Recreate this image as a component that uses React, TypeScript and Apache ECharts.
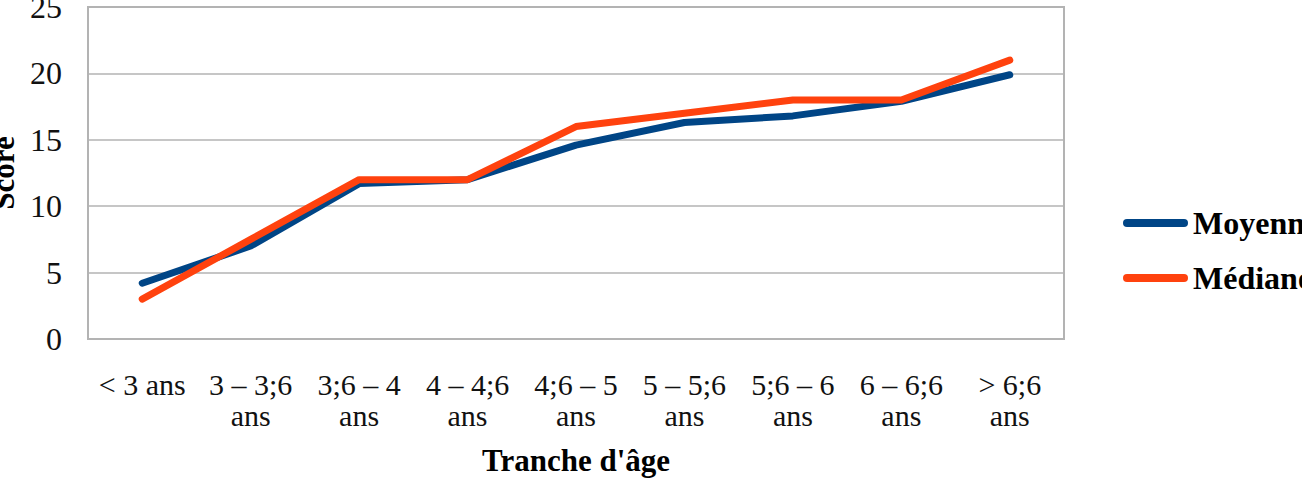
import React, { useEffect, useRef } from "react";
import * as echarts from "echarts";

// Age brackets (x axis) and the two score series
const ageBrackets = [
  "< 3 ans",
  "3 – 3;6\nans",
  "3;6 – 4\nans",
  "4 – 4;6\nans",
  "4;6 – 5\nans",
  "5 – 5;6\nans",
  "5;6 – 6\nans",
  "6 – 6;6\nans",
  "> 6;6\nans",
];
const moyenne = [4.2, 7.0, 11.7, 12.0, 14.6, 16.3, 16.8, 17.9, 19.9];
const mediane = [3.0, 7.5, 12.0, 12.0, 16.0, 17.0, 18.0, 18.0, 21.0];
const seriesNames = ["Moyenne", "Médiane"];

const SERIF = "'Liberation Serif', 'Times New Roman', serif";
const pill = "path://M4,0 L61,0 A4,4 0 0 1 61,8 L4,8 A4,4 0 0 1 4,0 Z";

export default function App() {
  const ref = useRef<HTMLDivElement>(null);

  useEffect(() => {
    document.body.style.margin = "0";
    const chart = echarts.init(ref.current!, null, { renderer: "svg" });
    chart.setOption({
      animation: false,
      backgroundColor: "#ffffff",
      color: ["#004586", "#ff420e"],
      grid: {
        left: 88,
        right: 238,
        top: 7,
        bottom: 144,
        outerBoundsMode: "none",
        containLabel: false,
        show: true,
        borderColor: "#b3b3b3",
        borderWidth: 2,
      },
      legend: {
        orient: "vertical",
        left: 1118,
        top: 202,
        itemWidth: 65,
        itemHeight: 8,
        itemGap: 23,
        data: seriesNames.map((n) => ({ name: n, icon: pill })),
        textStyle: {
          fontFamily: SERIF,
          fontSize: 32,
          fontWeight: "bold",
          color: "#000",
          lineHeight: 30,
        },
      },
      xAxis: {
        type: "category",
        data: ageBrackets,
        boundaryGap: true,
        axisLine: { show: false },
        axisTick: { show: false },
        axisLabel: {
          interval: 0,
          margin: 30,
          fontFamily: SERIF,
          fontSize: 30,
          lineHeight: 31,
          color: "#111",
        },
        name: "Tranche d'âge",
        nameLocation: "middle",
        nameGap: 106,
        nameTextStyle: {
          fontFamily: SERIF,
          fontSize: 31,
          fontWeight: "bold",
          color: "#000",
          lineHeight: 30,
        },
      },
      yAxis: {
        type: "value",
        min: 0,
        max: 25,
        interval: 5,
        axisLine: { show: false },
        axisTick: { show: false },
        splitLine: { lineStyle: { color: "#b3b3b3", width: 1.5 } },
        axisLabel: {
          margin: 26,
          fontFamily: SERIF,
          fontSize: 32,
          color: "#111",
        },
        name: "Score",
        nameLocation: "middle",
        nameGap: 70,
        nameTextStyle: {
          fontFamily: SERIF,
          fontSize: 31,
          fontWeight: "bold",
          color: "#000",
          lineHeight: 30,
        },
      },
      series: [
        {
          name: seriesNames[0],
          type: "line",
          data: moyenne,
          showSymbol: false,
          symbol: "none",
          lineStyle: { width: 7, cap: "round", join: "round" },
        },
        {
          name: seriesNames[1],
          type: "line",
          data: mediane,
          showSymbol: false,
          symbol: "none",
          lineStyle: { width: 7, cap: "round", join: "round" },
        },
      ],
    });
    return () => chart.dispose();
  }, []);

  return <div ref={ref} style={{ width: 1302, height: 483 }} />;
}
